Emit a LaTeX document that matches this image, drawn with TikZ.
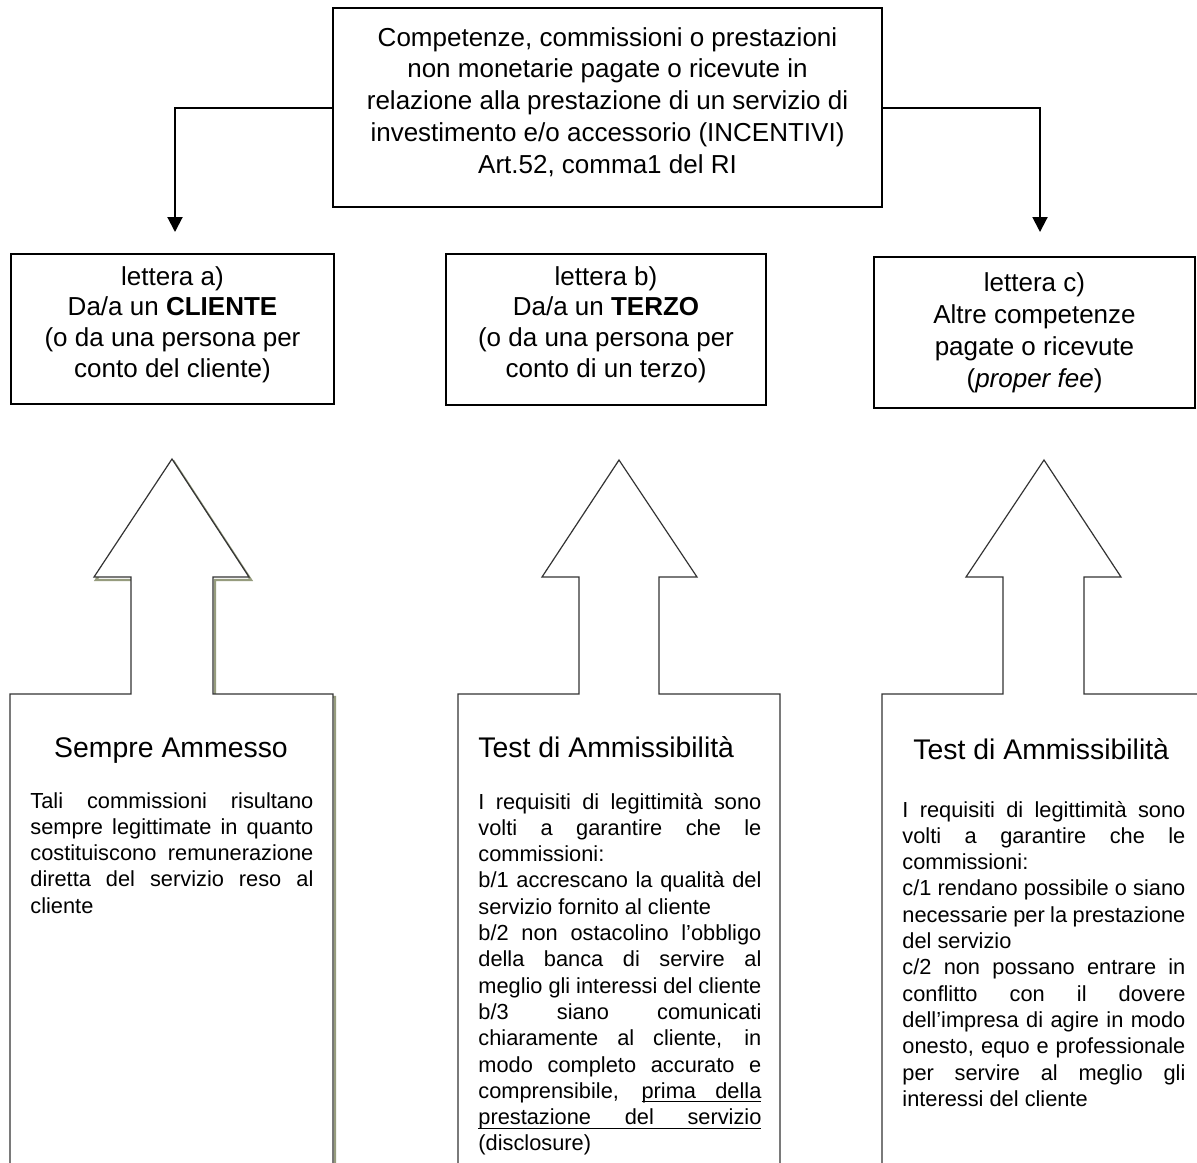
\documentclass[tikz,border=0pt]{standalone}
\usepackage{fontspec}
\setmainfont{Liberation Sans}
\usetikzlibrary{arrows.meta}
\definecolor{shadowolive}{RGB}{150,156,126}
\newlength\bw \setlength\bw{141.5pt}
\newcommand\jline[1]{\makebox[\bw][s]{#1}}
\newcommand\nline[1]{\makebox[\bw][l]{#1}}
\newcommand\bodyfont{\fontsize{10.9}{13.15}\selectfont}
\newcommand\titlefont{\fontsize{14.2}{17}\selectfont}
\newcommand\ulw[1]{\setbox0\hbox{#1}\rlap{\rule[-1.9pt]{\wd0}{0.45pt}}\box0}
\newcommand\uls{\leaders\hrule height -1.45pt depth 1.9pt\hskip\fontdimen2\font plus\fontdimen3\font minus\fontdimen4\font\relax}
\begin{document}
\begin{tikzpicture}[x=0.5pt,y=-0.5pt,
  boxn/.style={draw=black, line width=0.85pt, inner sep=0pt, fill=white},
  conn/.style={draw=black, line width=1pt, -{Triangle[width=7.5pt,length=7.5pt]}},
  bigarrow/.style={draw=black!80, line width=0.6pt, fill=white, line join=miter},
  shadowline/.style={draw=shadowolive, line width=1.2pt},
  body/.style={anchor=base west, inner sep=0pt},
  ttl/.style={inner sep=0pt, font=\titlefont}]
\path[use as bounding box, fill=white] (0,0) rectangle (1197,1162);

% top box
\node[boxn] (top) at (607.5,107.5) {\parbox[c][99.5pt][t]{274.5pt}{\centering\fontsize{13}{15.9}\selectfont\rule{0pt}{19pt}Competenze, commissioni o prestazioni\\
non monetarie pagate o ricevute in\\
relazione alla prestazione di un servizio di\\
investimento e/o accessorio (INCENTIVI)\\
Art.52, comma1 del RI}};

% three category boxes
\node[boxn] (a) at (172.5,329) {\parbox[c][75pt][t]{161.5pt}{\centering\fontsize{13}{15.4}\selectfont\rule{0pt}{15.5pt}lettera a)\\
Da/a un \textbf{CLIENTE}\\
(o da una persona per\\
conto del cliente)}};
\node[boxn] (b) at (606,329.5) {\parbox[c][75.5pt][t]{160pt}{\centering\fontsize{13}{15.4}\selectfont\rule{0pt}{15.5pt}lettera b)\\
Da/a un \textbf{TERZO}\\
(o da una persona per\\
conto di un terzo)}};
\node[boxn] (c) at (1034.5,332.5) {\parbox[c][75.5pt][t]{160.5pt}{\centering\fontsize{13}{16}\selectfont\rule{0pt}{17pt}lettera c)\\
Altre competenze\\
pagate o ricevute\\
(\textit{proper fee})}};

% connectors
\coordinate (ea) at (175,232);
\coordinate (ec) at (1040,232);
\draw[conn] (top.west) -| (ea);
\draw[conn] (top.east) -| (ec);

% big up arrows with boxes
\draw[shadowline] ([shift={(2,3)}]10,1165) -- ++(0,-471) -- ++(121,0) -- ++(0,-117) -- ++(-37,0) -- ++(78,-118) -- ++(77,118) -- ++(-36,0) -- ++(0,117) -- ++(120,0) -- ++(0,471);
\draw[bigarrow] (10,1165) -- (10,694) -- (131,694) -- (131,577) -- (94,577) -- (172,459) -- (249,577) -- (213,577) -- (213,694) -- (333,694) -- (333,1165);
\draw[bigarrow] (458,1165) -- (458,694) -- (579,694) -- (579,577) -- (542,577) -- (619,460) -- (697,577) -- (659,577) -- (659,694) -- (780,694) -- (780,1165);
\draw[bigarrow] (882,1165) -- (882,694) -- (1003,694) -- (1003,577) -- (966,577) -- (1044,460) -- (1121,577) -- (1084,577) -- (1084,694) -- (1205,694) -- (1205,1165);

% titles
\node[ttl, anchor=base] (t1) at (171,757) {Sempre Ammesso};
\node[ttl, anchor=base west] (t2) at (478,757) {Test di Ammissibilità};
\node[ttl, anchor=base west] (t3) at (913,759) {Test di Ammissibilità};

% bodies
\node[body] (b1) at (30,808) {\parbox[t]{\bw}{\bodyfont
\jline{Tali commissioni risultano}\\
\jline{sempre legittimate in quanto}\\
\jline{costituiscono remunerazione}\\
\jline{diretta del servizio reso al}\\
\nline{cliente}}};

\node[body] (b2) at (478,809) {\parbox[t]{\bw}{\bodyfont
\jline{I requisiti di legittimità sono}\\
\jline{volti a garantire che le}\\
\nline{commissioni:}\\
\jline{b/1 accrescano la qualità del}\\
\nline{servizio fornito al cliente}\\
\jline{b/2 non ostacolino l’obbligo}\\
\jline{della banca di servire al}\\
\jline{meglio gli interessi del cliente}\\
\jline{b/3 siano comunicati}\\
\jline{chiaramente al cliente, in}\\
\jline{modo completo accurato e}\\
\jline{comprensibile, \ulw{prima}\uls\ulw{della}}\\
\jline{\ulw{prestazione}\uls\ulw{del}\uls\ulw{servizio}}\\
\nline{(disclosure)}}};

\node[body] (b3) at (902,817) {\parbox[t]{\bw}{\bodyfont
\jline{I requisiti di legittimità sono}\\
\jline{volti a garantire che le}\\
\nline{commissioni:}\\
\jline{c/1 rendano possibile o siano}\\
\jline{necessarie per la prestazione}\\
\nline{del servizio}\\
\jline{c/2 non possano entrare in}\\
\jline{conflitto con il dovere}\\
\jline{dell’impresa di agire in modo}\\
\jline{onesto, equo e professionale}\\
\jline{per servire al meglio gli}\\
\nline{interessi del cliente}}};
\end{tikzpicture}
\end{document}
